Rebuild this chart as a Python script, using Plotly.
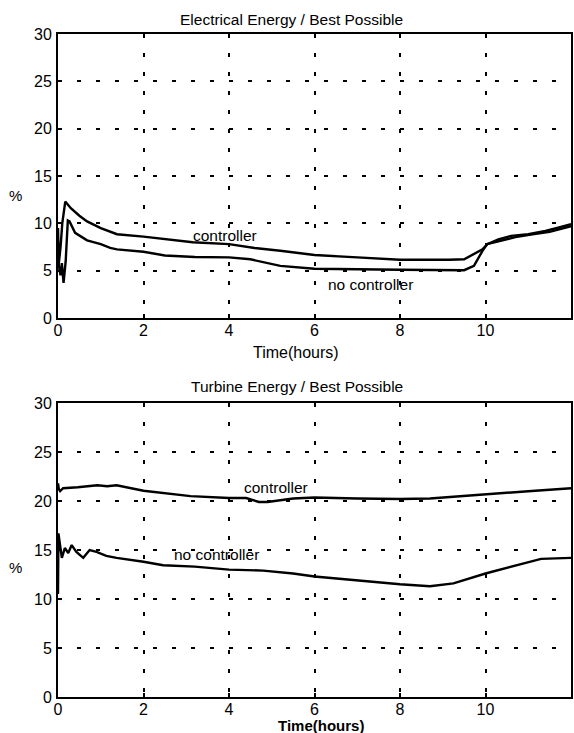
import plotly.graph_objects as go
from plotly.subplots import make_subplots

# ---------------- data ----------------
# Top panel: Electrical Energy / Best Possible (%)
elec_ctrl_t = [0.0, 0.02, 0.06, 0.1, 0.17, 0.3, 0.5, 0.68, 1.0, 1.22, 1.38, 2.0, 2.5, 3.15, 4.0, 4.6,
               5.2, 6.0, 7.0, 8.0, 9.15, 9.5, 9.93, 10.04, 10.3, 10.6, 11.0, 11.4, 11.7, 12.0]
elec_ctrl_v = [9.5, 5.8, 7.5, 10.0, 12.3, 11.6, 10.8, 10.2, 9.5, 9.1, 8.85, 8.6, 8.35, 8.0, 7.8, 7.4,
               7.1, 6.65, 6.4, 6.15, 6.15, 6.2, 7.25, 7.8, 8.3, 8.67, 8.85, 9.2, 9.55, 9.9]

elec_noctrl_t = [0.0, 0.02, 0.06, 0.09, 0.13, 0.18, 0.23, 0.27, 0.4, 0.68, 1.0, 1.22, 1.38, 2.0, 2.5,
                 3.2, 4.0, 4.5, 5.2, 6.0, 8.0, 9.4, 9.5, 9.73, 9.93, 10.04, 10.4, 10.7, 11.1, 11.5, 12.0]
elec_noctrl_v = [7.6, 5.5, 4.5, 5.8, 3.7, 6.0, 10.3, 10.2, 9.0, 8.2, 7.8, 7.4, 7.25, 7.0, 6.6,
                 6.45, 6.4, 6.2, 5.5, 5.2, 5.1, 5.1, 5.05, 5.5, 7.1, 7.8, 8.2, 8.55, 8.85, 9.1, 9.7]

# Bottom panel: Turbine Energy / Best Possible (%)
turb_ctrl_t = [0.0, 0.02, 0.05, 0.12, 0.46, 0.92, 1.15, 1.37, 2.0, 2.5, 3.1, 4.0, 4.4, 4.7, 4.9, 5.5,
               6.0, 7.0, 8.0, 8.7, 10.0, 11.0, 12.0]
turb_ctrl_v = [21.8, 21.2, 21.0, 21.3, 21.4, 21.6, 21.5, 21.6, 21.05, 20.8, 20.5, 20.3, 20.3, 19.9, 19.9, 20.25,
               20.35, 20.25, 20.2, 20.25, 20.7, 21.0, 21.3]

turb_noctrl_t = [0.0, 0.01, 0.09, 0.16, 0.24, 0.32, 0.43, 0.59, 0.74, 0.9, 1.13, 1.37, 2.0, 2.46,
                 3.2, 4.0, 4.8, 5.5, 6.0, 7.0, 8.0, 8.7, 9.25, 10.0, 10.9, 11.3, 12.0]
turb_noctrl_v = [10.5, 16.7, 14.2, 15.2, 14.7, 15.5, 14.8, 14.2, 15.0, 14.8, 14.4, 14.2, 13.8, 13.45,
                 13.3, 13.0, 12.9, 12.6, 12.3, 11.9, 11.5, 11.3, 11.6, 12.6, 13.6, 14.1, 14.2]

x_ticks = [0, 2, 4, 6, 8, 10]
y_ticks = [0, 5, 10, 15, 20, 25, 30]

# ---------------- layout constants ----------------
W, H = 574, 733
ML, MR, MT, MB = 58, 1, 34, 36
PW, PH = W - ML - MR, H - MT - MB
TOP_Y0, TOP_Y1 = 318, 34      # pixel rows of top panel (bottom, top)
BOT_Y0, BOT_Y1 = 697, 403


def py(p):
    return (H - MB - p) / PH


def px(p):
    return (p - ML) / PW


FONT = "Liberation Sans, Arial, Helvetica, sans-serif"

fig = make_subplots(rows=2, cols=1)
fig.update_layout(
    yaxis=dict(domain=[py(TOP_Y0), py(TOP_Y1)]),
    yaxis2=dict(domain=[py(BOT_Y0), py(BOT_Y1)]),
)

line_style = dict(color="black", width=2.4)
fig.add_trace(go.Scatter(x=elec_ctrl_t, y=elec_ctrl_v, mode="lines", line=line_style), row=1, col=1)
fig.add_trace(go.Scatter(x=elec_noctrl_t, y=elec_noctrl_v, mode="lines", line=line_style), row=1, col=1)
fig.add_trace(go.Scatter(x=turb_ctrl_t, y=turb_ctrl_v, mode="lines", line=line_style), row=2, col=1)
fig.add_trace(go.Scatter(x=turb_noctrl_t, y=turb_noctrl_v, mode="lines", line=line_style), row=2, col=1)

axis_common = dict(
    showline=True, linecolor="black", linewidth=2, mirror=True,
    showgrid=True, gridcolor="black", gridwidth=1.8, griddash="4px,15px",
    zeroline=False, ticks="inside", ticklen=4, tickcolor="black", tickwidth=1.5,
    tickfont=dict(family=FONT, size=16, color="black"),
)
for r in (1, 2):
    fig.update_xaxes(range=[0, 12], tickvals=x_ticks, ticklabelstandoff=-3, row=r, col=1, **axis_common)
    fig.update_yaxes(range=[0, 30], tickvals=y_ticks, ticklabelstandoff=1, row=r, col=1, **axis_common)

ann = []
# titles
ann.append(dict(text="Electrical Energy / Best Possible", x=px(292), y=py(19), xref="paper", yref="paper",
                showarrow=False, font=dict(family=FONT, size=15.5, color="black"), xanchor="center", yanchor="middle"))
ann.append(dict(text="Turbine Energy / Best Possible", x=px(298), y=py(386), xref="paper", yref="paper",
                showarrow=False, font=dict(family=FONT, size=15.5, color="black"), xanchor="center", yanchor="middle"))
# x titles
ann.append(dict(text="Time(hours)", x=px(297), y=py(352), xref="paper", yref="paper",
                showarrow=False, font=dict(family=FONT, size=16, color="black"), xanchor="center", yanchor="middle"))
ann.append(dict(text="<b>Time(hours)</b>", x=px(322), y=py(725), xref="paper", yref="paper",
                showarrow=False, font=dict(family=FONT, size=15, color="black"), xanchor="center", yanchor="middle"))
# y titles
for yy in (195, 567):
    ann.append(dict(text="%", x=px(15), y=py(yy), xref="paper", yref="paper",
                    showarrow=False, font=dict(family=FONT, size=15, color="black"), xanchor="center", yanchor="middle"))
# series labels
lab_font = dict(family=FONT, size=15.5, color="black")
ann.append(dict(text="controller", x=3.9, y=8.7, xref="x", yref="y", showarrow=False, font=lab_font))
ann.append(dict(text="no controller", x=7.3, y=3.5, xref="x", yref="y", showarrow=False, font=lab_font))
ann.append(dict(text="controller", x=5.1, y=21.4, xref="x2", yref="y2", showarrow=False, font=lab_font))
ann.append(dict(text="no controller", x=3.7, y=14.5, xref="x2", yref="y2", showarrow=False, font=lab_font))

fig.update_layout(
    width=W, height=H,
    margin=dict(l=ML, r=MR, t=MT, b=MB),
    paper_bgcolor="white", plot_bgcolor="white",
    showlegend=False,
    annotations=ann,
    font=dict(family=FONT, color="black"),
)

fig.write_html("out.html")
